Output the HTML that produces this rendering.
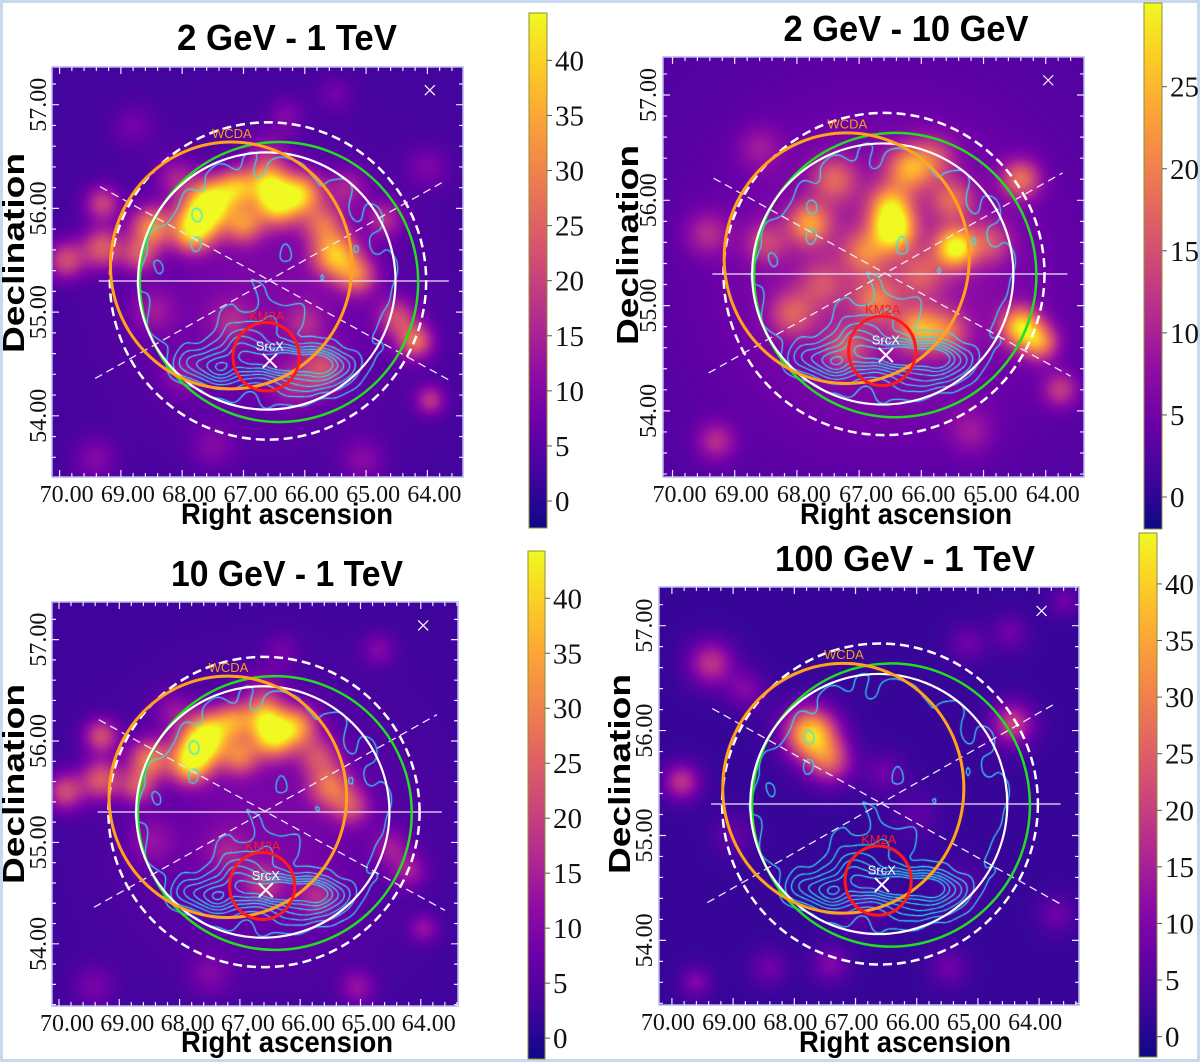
<!DOCTYPE html>
<html><head><meta charset="utf-8">
<style>
html,body{margin:0;padding:0;}
body{width:1200px;height:1062px;position:relative;background:#fff;overflow:hidden;font-family:"Liberation Sans",sans-serif;}
#frame{position:absolute;left:0;top:0;width:1194px;height:1056px;border:3px solid #c9d8ee;}
canvas{position:absolute;}
#ov{position:absolute;left:0;top:0;}
.serif{font-family:"Liberation Serif",serif;}
</style></head>
<body>
<div id="frame"></div>
<div id="maps"></div>
<svg id="ov" width="1200" height="1062" xmlns="http://www.w3.org/2000/svg">
<defs>
<linearGradient id="plasma" x1="0" y1="1" x2="0" y2="0">
<stop offset="0" stop-color="#0d0887"/><stop offset="0.1" stop-color="#41049d"/><stop offset="0.2" stop-color="#6a00a8"/><stop offset="0.3" stop-color="#8f0da4"/><stop offset="0.4" stop-color="#b12a90"/><stop offset="0.5" stop-color="#cc4778"/><stop offset="0.6" stop-color="#e16462"/><stop offset="0.7" stop-color="#f2844b"/><stop offset="0.8" stop-color="#fca636"/><stop offset="0.9" stop-color="#fcce25"/><stop offset="1" stop-color="#f0f921"/>
</linearGradient>
</defs>
</svg>
<script>
// ---------- data ----------
const raTicks = [70, 69, 68, 67, 66, 65, 64];
const decTicks = [54, 55, 56, 57];
const cbTicks1 = [0, 5, 10, 15, 20, 25, 30, 35, 40];
const cbTicks2 = [0, 5, 10, 15, 20, 25];
const panelTitles = ["2 GeV - 1 TeV", "2 GeV - 10 GeV", "10 GeV - 1 TeV", "100 GeV - 1 TeV"];
const cbRanges = [[-2.45, 44.3], [-1.95, 30.1], [-1.9, 44.3], [-1.8, 44.5]];
const baseLevels = [2.5, 2.5, 2.5, 2];
// blobs: [ra, dec, amplitude, sigma(deg dec)]
const blobs1 = [
[66.6,55.1,7,0.9],[67.68,55.93,36,0.16],[67.5,56.1,26,0.14],[67.85,55.75,22,0.13],[66.45,56.05,34,0.15],[66.6,56.25,24,0.13],
[67.1,56.2,26,0.13],[67.0,55.85,22,0.13],[66.05,56.15,28,0.14],[65.5,55.55,30,0.15],[65.15,55.35,20,0.13],[65.7,55.85,18,0.14],
[64.5,54.95,16,0.13],[64.2,54.72,22,0.12],[69.9,55.5,18,0.13],[69.3,55.62,20,0.14],[68.5,55.82,26,0.14],[68.7,55.55,16,0.12],
[69.3,56.05,16,0.12],[68.48,55.01,8,0.16],[65.7,54.45,15,0.15],[66.2,54.3,9,0.15],[63.95,54.15,14,0.1],
[69.42,53.58,7,0.15],[65.05,53.57,7,0.15],[67.5,53.7,6,0.15],[64.0,56.4,6,0.15],[68.8,56.8,5,0.15],
[66.3,56.9,6,0.12],[65.5,57.1,5,0.12],[64.7,55.9,12,0.13],[67.2,54.9,8,0.15],[68.0,54.4,7,0.14],[66.0,54.9,8,0.14],
[66.6,56.5,10,0.15],[65.3,56.2,10,0.14],[68.1,56.3,10,0.14]];
const blobs2 = [
[66.6,55.3,7,1.0],[66.45,55.72,24,0.14],[66.5,55.95,16,0.14],[65.45,55.55,24,0.13],[67.8,55.78,16,0.14],[66.2,56.3,16,0.15],
[64.4,56.2,14,0.13],[64.4,54.8,22,0.13],[64.1,54.65,16,0.12],[66.72,55.05,11,0.15],[66.05,54.78,15,0.14],[65.6,54.75,11,0.14],
[68.07,54.92,10,0.15],[69.3,53.71,8,0.13],[63.76,54.2,9,0.12],[69.44,55.68,7,0.15],[67.4,56.2,11,0.15],[65.5,56.0,11,0.14],
[66.9,55.5,11,0.15],[65.8,56.4,9,0.15],[68.6,56.5,5,0.15],[65.2,53.8,5,0.15],[67.2,54.6,9,0.14],[68.5,55.6,8,0.14],
[66.0,55.3,8,0.15],[64.9,55.6,9,0.14],[67.6,55.2,7,0.15]];
const blobs3 = [
[66.6,55.1,7,0.9],[67.68,55.93,36,0.16],[67.5,56.1,24,0.14],[67.85,55.75,22,0.13],[66.45,56.05,34,0.15],[66.6,56.25,22,0.13],
[67.1,56.2,22,0.13],[67.0,55.85,20,0.13],[66.05,56.15,24,0.14],[65.5,55.55,20,0.15],[65.15,55.35,14,0.13],[65.7,55.85,14,0.14],
[64.5,54.95,9,0.13],[64.2,54.72,10,0.12],[69.9,55.5,18,0.13],[69.3,55.62,20,0.14],[68.5,55.82,24,0.14],[68.7,55.55,16,0.12],
[69.3,56.05,18,0.12],[68.48,55.01,7,0.16],[65.7,54.45,10,0.15],[66.6,54.6,11,0.14],[63.95,54.15,9,0.1],
[69.42,53.58,6,0.15],[65.05,53.57,9,0.12],[67.5,53.7,6,0.15],[64.7,56.9,7,0.12],[66.3,56.9,5,0.12],[67.2,54.9,7,0.15],
[66.6,56.5,8,0.15],[68.1,56.3,8,0.14]];
const blobs4 = [
[67.73,55.97,38,0.17],[67.42,55.71,20,0.15],[69.36,56.64,16,0.15],[69.84,55.51,16,0.12],[64.44,56.06,18,0.14],
[68.79,56.39,8,0.13],[65.16,56.83,6,0.12],[64.48,56.93,6,0.12],[69.61,53.6,8,0.1],[68.41,53.74,6,0.12],
[67.42,53.77,8,0.12],[65.47,53.74,6,0.12],[66.53,55.6,6,0.13],[63.72,54.25,6,0.12],[63.59,57.23,6,0.1],
[69.0,55.0,5,0.13],[66.0,55.2,4,0.15],[65.3,54.5,4,0.15],[66.9,54.3,4,0.15]];
const allBlobs = [blobs1, blobs2, blobs3, blobs4];
// contour sources: [ra, dec, amplitude, sigmaRA, sigmaDec]
const contourSrc = [
[66.3,54.52,8,0.5,0.1],[67.4,54.45,5,0.22,0.1],[67.1,54.65,4,0.25,0.12],[65.6,54.48,4,0.3,0.1],
[67.85,54.5,3,0.2,0.1],[66.7,54.85,2,0.35,0.15],[65.9,54.3,2.5,0.35,0.08]];
const contourLevels = [1.3, 2.4, 3.5, 4.6, 5.7, 6.8, 7.9];
const diskShape = [66.6, 55.3, 2.3, 1.33, 1.9]; // ra, dec, rRA, rDec, plateau amplitude
const noiseFreq = [[6.1,9.3,0.35],[10.7,6.2,0.28],[4.3,14.1,0.22],[15.5,12.9,0.15]]; // [fRA, fDec, amp]
// overlays (sky coords): [raCenter, decCenter, rRA, rDec]
const circDashed = [66.6, 55.3, 2.58, 1.53];
const circWhite = [66.62, 55.3, 2.10, 1.24];
const circGreen = [66.42, 55.29, 2.27, 1.35];
const circOrange = [67.20, 55.45, 1.97, 1.19];
const circRed = [66.63, 54.57, 0.54, 0.33];
const srcX = [66.57, 54.53];
const cornerX = [63.96, 57.14];
const hLine = [[69.36, 55.3], [63.65, 55.3]];
const diag1 = [[69.34, 56.21], [63.60, 54.33]];
const diag2 = [[69.42, 54.36], [63.73, 56.26]];

// ---------- layout ----------
const panels = [
 {box:[52,67,463,477], cx:268, cy:281, sx:61.3, sy:103.7, ldx:7, decLx:46, decTx:24, decTy:253, raTy:524, tx:287, ty:50, tw:220, cb:[529,13,547,528]},
 {box:[663,57,1084,477], cx:884, cy:274, sx:62.2, sy:105.3, ldx:7, decLx:656, decTx:638, decTy:245, raTy:524, tx:906, ty:41, tw:245, cb:[1144,3,1162,529]},
 {box:[52,602,458,1006], cx:264, cy:812, sx:60.3, sy:101.4, ldx:8, decLx:46, decTx:24, decTy:784, raTy:1052, tx:287, ty:586, tw:232, cb:[528,551,545,1059]},
 {box:[659,587,1079,1005], cx:880, cy:804, sx:61.2, sy:104.9, ldx:-4, decLx:652, decTx:630, decTy:774, raTy:1052, tx:905, ty:571, tw:260, cb:[1139,533,1157,1057]}
];
const RA0 = 66.6, DEC0 = 55.3;
const NS = "http://www.w3.org/2000/svg";
const svg = document.getElementById('ov');
const maps = document.getElementById('maps');

const stops = [[13,8,135],[65,4,157],[106,0,168],[143,13,164],[177,42,144],[204,71,120],[225,100,98],[242,132,75],[252,166,54],[252,206,37],[240,249,33]];
function plasma(t){ t=Math.max(0,Math.min(1,t)); const f=t*10, i=Math.min(9,Math.floor(f)), u=f-i; const a=stops[i], b=stops[i+1]; return [a[0]+(b[0]-a[0])*u, a[1]+(b[1]-a[1])*u, a[2]+(b[2]-a[2])*u]; }
function mk(tag, attrs, parent){ const e=document.createElementNS(NS,tag); for(const k in attrs) e.setAttribute(k,attrs[k]); (parent||svg).appendChild(e); return e; }

panels.forEach((p, pi) => {
  const xOf = ra => p.cx + (RA0 - ra) * p.sx;
  const yOf = dec => p.cy - (dec - DEC0) * p.sy;
  const raOf = x => RA0 - (x - p.cx) / p.sx;
  const decOf = y => DEC0 - (y - p.cy) / p.sy;
  const [x0,y0,x1,y1] = p.box; const W = x1-x0, H = y1-y0;
  const [vmin, vmax] = cbRanges[pi];
  const asp = p.sx / p.sy;
  const cv = document.createElement('canvas');
  cv.width = W; cv.height = H; cv.style.left = x0+'px'; cv.style.top = y0+'px';
  
  
  maps.appendChild(cv);
  const ctx = cv.getContext('2d');
  const img = ctx.createImageData(W, H);
  const bl = allBlobs[pi];
  for (let j=0;j<H;j++){ const dec = decOf(y0+j+0.5);
    for (let i=0;i<W;i++){ const ra = raOf(x0+i+0.5);
      let v = baseLevels[pi];
      for (const b of bl){ const dx=(ra-b[0])*asp, dy=dec-b[1]; v += b[2]*Math.exp(-(dx*dx+dy*dy)/(2*b[3]*b[3])); }
      const c = plasma((v-vmin)/(vmax-vmin)); const k=(j*W+i)*4;
      img.data[k]=c[0]; img.data[k+1]=c[1]; img.data[k+2]=c[2]; img.data[k+3]=255; } }
  ctx.putImageData(img,0,0);
  const st = 3, nx = Math.floor(W/st)+1, ny = Math.floor(H/st)+1;
  const F = new Float32Array(nx*ny);
  for (let j=0;j<ny;j++){ const dec=decOf(y0+j*st); for(let i=0;i<nx;i++){ const ra=raOf(x0+i*st); let v=0;
    for (const s of contourSrc){ const dx=(ra-s[0])/s[3], dy=(dec-s[1])/s[4]; v+=s[2]*Math.exp(-(dx*dx+dy*dy)/2); }
    const er=Math.sqrt(((ra-diskShape[0])/diskShape[2])**2+((dec-diskShape[1])/diskShape[3])**2);
    const mask=Math.exp(-Math.pow(er,8));
    let nz=0; for (const q of noiseFreq) nz += q[2]*Math.sin(q[0]*ra+1.3*q[1])*Math.cos(q[1]*dec+0.7*q[0]);
    v += mask*(diskShape[4] + nz);
    F[j*nx+i]=v; } }
  ctx.strokeStyle = '#30e4f4'; ctx.lineWidth = 1.2; ctx.beginPath();
  for (const L of contourLevels){
    for (let j=0;j<ny-1;j++) for (let i=0;i<nx-1;i++){
      const a=F[j*nx+i], b=F[j*nx+i+1], c=F[(j+1)*nx+i+1], d=F[(j+1)*nx+i];
      const pts=[]; const X=i*st, Y=j*st;
      if ((a>L)!==(b>L)) pts.push([X+st*(L-a)/(b-a), Y]);
      if ((b>L)!==(c>L)) pts.push([X+st, Y+st*(L-b)/(c-b)]);
      if ((d>L)!==(c>L)) pts.push([X+st*(L-d)/(c-d), Y+st]);
      if ((a>L)!==(d>L)) pts.push([X, Y+st*(L-a)/(d-a)]);
      if (pts.length>=2){ ctx.moveTo(pts[0][0],pts[0][1]); ctx.lineTo(pts[1][0],pts[1][1]); }
      if (pts.length===4){ ctx.moveTo(pts[2][0],pts[2][1]); ctx.lineTo(pts[3][0],pts[3][1]); }
    } }
  ctx.stroke();

  const clipId = 'clip'+pi;
  const cp = mk('clipPath',{id:clipId}); mk('rect',{x:x0,y:y0,width:W,height:H},cp);
  const g = mk('g',{'clip-path':'url(#'+clipId+')'});
  
  
  const ell = (c, stroke, sw, dash, name) => { const e = mk('ellipse',{cx:xOf(c[0]),cy:yOf(c[1]),rx:c[2]*p.sx,ry:c[3]*p.sy,fill:'none',stroke:stroke,'stroke-width':sw},g); if(dash) e.setAttribute('stroke-dasharray',dash);
    
     };
  const line = (l, dash, name) => { const e = mk('line',{x1:xOf(l[0][0]),y1:yOf(l[0][1]),x2:xOf(l[1][0]),y2:yOf(l[1][1]),stroke:'#ece6f6','stroke-width':1.3},g); if(dash) e.setAttribute('stroke-dasharray',dash);
    
     };
  line(hLine, null, 'horizontal-axis-line'); line(diag1, '8,5', 'diagonal-line'); line(diag2, '8,5', 'diagonal-line');
  ell(circDashed,'#ffffff',2.5,'9,5','outer-dashed-circle');
  ell(circGreen,'#22dd22',2.5,null,'green-circle');
  ell(circWhite,'#ffffff',2.2,null,'white-circle');
  ell(circOrange,'#ffa31a',3,null,'wcda-circle');
  ell(circRed,'#ff1a1a',3,null,'km2a-circle');
  const cross = (c, s, w, name) => { const x=xOf(c[0]), y=yOf(c[1]);
    const e = mk('path',{d:`M${x-s},${y-s}L${x+s},${y+s}M${x-s},${y+s}L${x+s},${y-s}`,stroke:'#fff','stroke-width':w},g);
    
     };
  cross(srcX, 7, 2, 'srcx-marker'); cross(cornerX, 5, 1.2, 'corner-marker');
  const lab = (txt, ra, dec, col, name) => { const t = mk('text',{x:xOf(ra),y:yOf(dec),fill:col,'font-size':13,'text-anchor':'middle'},g); t.textContent=txt;
    
     };
  lab('WCDA', 67.19, 56.68, '#f0a020', 'wcda-label');
  lab('KM2A', 66.62, 54.92, '#ff1a1a', 'km2a-label');
  lab('SrcX', 66.57, 54.63, '#ffffff', 'srcx-label');

  const fr = mk('rect',{x:x0,y:y0,width:W,height:H,fill:'none',stroke:'#b9b6ea','stroke-width':1.5});
  
  
  let td='';
  for (let k=0;k<=40;k++){ const ra=63+k*0.2; const x=xOf(ra); if(x<x0+1||x>x1-1) continue; const L=(k%5===0)?7:4; td+=`M${x},${y0}v${L}M${x},${y1}v${-L}`; }
  for (let k=0;k<=25;k++){ const dec=53+k*0.2; const y=yOf(dec); if(y<y0+1||y>y1-1) continue; const L=(k%5===0)?7:4; td+=`M${x0},${y}h${L}M${x1},${y}h${-L}`; }
  const tk = mk('path',{d:td,stroke:'#e8e8f8','stroke-width':1.2,fill:'none'});
  
  
  raTicks.forEach(r => { const t = mk('text',{x:xOf(r)+p.ldx,y:y1+25,'font-size':24,'text-anchor':'middle','class':'serif',fill:'#111'}); t.textContent=r.toFixed(2);
    
     });
  decTicks.forEach(d => { const y=yOf(d); const t = mk('text',{x:p.decLx,y:y,'font-size':24,'text-anchor':'middle','class':'serif',fill:'#111',transform:`rotate(-90 ${p.decLx} ${y})`}); t.textContent=d.toFixed(2);
    
     });
  const tt = mk('text',{x:p.tx,y:p.ty,'font-size':36,'font-weight':'bold','text-anchor':'middle',textLength:p.tw,lengthAdjust:'spacingAndGlyphs',fill:'#000'}); tt.textContent=panelTitles[pi];
  
  
  const rt = mk('text',{x:p.tx,y:p.raTy,'font-size':30,'font-weight':'bold','text-anchor':'middle',textLength:212,lengthAdjust:'spacingAndGlyphs',fill:'#000'}); rt.textContent='Right ascension';
  
  
  const dt = mk('text',{x:p.decTx,y:p.decTy,'font-size':31,'font-weight':'bold','text-anchor':'middle',textLength:200,lengthAdjust:'spacingAndGlyphs',fill:'#000',transform:`rotate(-90 ${p.decTx} ${p.decTy})`}); dt.textContent='Declination';
  
  
  const [cx0,cy0,cx1,cy1] = p.cb;
  const cbr = mk('rect',{x:cx0,y:cy0,width:cx1-cx0,height:cy1-cy0,fill:'url(#plasma)',stroke:'#8f8f3a','stroke-width':1});
  
  
  const cbY = v => cy1 - (v - vmin)/(vmax - vmin)*(cy1-cy0);
  const ticks = pi===1 ? cbTicks2 : cbTicks1;
  ticks.forEach(v => { const y=cbY(v);
    const l = mk('line',{x1:cx1,y1:y,x2:cx1+5,y2:y,stroke:'#555','stroke-width':1});
    
    
    const t = mk('text',{x:cx1+8,y:y+10,'font-size':29,'class':'serif',fill:'#111'}); t.textContent=String(v);
    
     });
});
</script>
</body></html>
